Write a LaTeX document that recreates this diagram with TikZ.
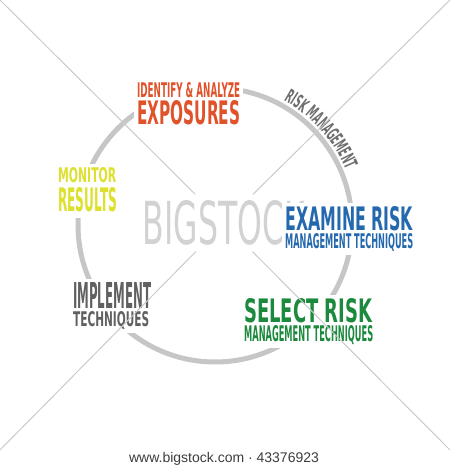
\documentclass[tikz,border=0pt]{standalone}
\usepackage{fontspec}
\setmainfont{Liberation Sans}
\newfontfamily\gothic{DejaVu Sans}[FakeStretch=0.55]
\newfontfamily\arcgothic{DejaVu Sans}[FakeStretch=0.45]
\usetikzlibrary{decorations.text}

\definecolor{ringgray}{HTML}{C6C6C6}
\definecolor{riskorange}{HTML}{E0522A}
\definecolor{riskyellow}{HTML}{DDE02C}
\definecolor{riskblue}{HTML}{2468AE}
\definecolor{riskgreen}{HTML}{1B8A3C}
\definecolor{riskgray}{HTML}{606060}
\definecolor{arcgray}{HTML}{6E6E6E}
\definecolor{markgray}{HTML}{D2D2D2}
\definecolor{linegray}{HTML}{CACACA}
\definecolor{footgray}{HTML}{3C3C3C}

% one condensed line of given width and cap height
\newcommand{\fitline}[3]{\resizebox{#1pt}{#2pt}{\gothic\bfseries #3}}

\begin{document}
\begin{tikzpicture}[x=1pt,y=1pt,
                    phase/.style={anchor=north west,fill=white,inner sep=3pt},
                    markline/.style={draw=linegray,line width=1pt}
                   ]
  \useasboundingbox (0,0) rectangle (450,470);
  % watermark
  \node[fill=white,inner sep=6pt,text=markgray] (mark) at (224,247) {\resizebox{162pt}{44pt}{\gothic BIGSTOCK}};
  % the cycle
  \coordinate (c) at (215,245);
  \draw[ringgray,line width=5pt] (c) circle[radius=137];
  \path[decorate,decoration={text along path,text align=center,
        text={|\arcgothic\bfseries\fontsize{19}{22}\selectfont\color{arcgray}|RISK MANAGEMENT}}]
    ([shift={(70:142)}]c) arc[start angle=70,end angle=14,radius=142];
  % the five steps
  \node[phase,text=riskorange] (ident) at (134,391)
    {\begin{tabular}{@{}l@{}}\fitline{103}{15}{IDENTIFY \& ANALYZE}\\\fitline{103}{24}{EXPOSURES}\end{tabular}};
  \node[phase,text=riskyellow] (monitor) at (55,306)
    {\begin{tabular}{@{}l@{}}\fitline{58}{15}{MONITOR}\\[1.4pt]\fitline{59}{24}{RESULTS}\end{tabular}};
  \node[phase,text=riskblue] (examine) at (282,267)
    {\begin{tabular}{@{}l@{}}\fitline{128}{24}{EXAMINE RISK}\\\fitline{128}{15}{MANAGEMENT TECHNIQUES}\end{tabular}};
  \node[phase,text=riskgreen] (select) at (241,175)
    {\begin{tabular}{@{}l@{}}\fitline{128}{24}{SELECT RISK}\\\fitline{129}{16}{MANAGEMENT TECHNIQUES}\end{tabular}};
  \node[phase,text=riskgray] (implement) at (70,191)
    {\begin{tabular}{@{}l@{}}\fitline{78}{26}{IMPLEMENT}\\\fitline{76}{15}{TECHNIQUES}\end{tabular}};
  % watermark cross
  \coordinate (nw) at (0,470);
  \coordinate (ne) at (450,470);
  \coordinate (sw) at (0,20);
  \coordinate (se) at (450,20);
  \foreach \corner in {nw,ne,sw,se}
    \draw[markline] (\corner) -- (mark);
  \node[text=footgray,font=\fontsize{14}{16}\selectfont,anchor=base] (credit) at (224,7) {www.bigstock.com · 43376923};
\end{tikzpicture}
\end{document}
